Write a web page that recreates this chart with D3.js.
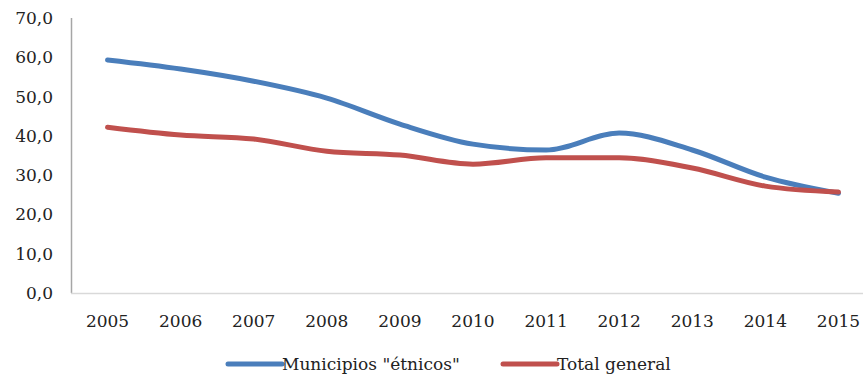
<!DOCTYPE html>
<html>
<head>
<meta charset="utf-8">
<script src="https://d3js.org/d3.v7.min.js"></script>
<style>
body { margin: 0; background: #fff; }
text { font-family: "DejaVu Serif", serif; fill: #222; }
</style>
</head>
<body>
<script>
// data
var years = ["2005", "2006", "2007", "2008", "2009", "2010", "2011", "2012", "2013", "2014", "2015"];
var etnicos = [59.3, 57.0, 53.9, 49.6, 43.0, 37.9, 36.4, 40.7, 36.4, 29.5, 25.4];
var totalGeneral = [42.2, 40.2, 39.2, 36.1, 35.1, 32.8, 34.4, 34.4, 31.8, 27.2, 25.7];
var yTicks = [0, 10, 20, 30, 40, 50, 60, 70];

var seriesNames = ['Municipios "étnicos"', "Total general"];
var seriesColours = ["#4a7ebb", "#c0504d"];

var svgDims = { width: 863, height: 374 };

var svg = d3.select("body").append("svg")
	.attr("width", svgDims.width)
	.attr("height", svgDims.height);

// plot area runs past the right edge, as in the original
var x = d3.scaleBand().domain(years).range([71, 875]);
var y = d3.scaleLinear().domain([0, 70]).range([293, 18]);

// y axis labels
svg.append("g")
	.selectAll("text")
	.data(yTicks)
	.enter().append("text")
	.attr("x", 53)
	.attr("y", function(d) { return y(d); })
	.attr("dy", "0.35em")
	.attr("text-anchor", "end")
	.style("font-size", "17px")
	.text(function(d) { return d3.format(".1f")(d).replace(".", ","); });

// x axis labels
svg.append("g")
	.selectAll("text")
	.data(years)
	.enter().append("text")
	.attr("x", function(d) { return x(d) + x.bandwidth() / 2; })
	.attr("y", 327)
	.attr("text-anchor", "middle")
	.style("font-size", "17px")
	.text(function(d) { return d; });

// axis lines
svg.append("line")
	.attr("x1", 71.5).attr("x2", 71.5)
	.attr("y1", y(70)).attr("y2", y(0))
	.attr("stroke", "#a6a6a6").attr("stroke-width", 1.5);
svg.append("line")
	.attr("x1", 71).attr("x2", 875)
	.attr("y1", y(0) + 0.5).attr("y2", y(0) + 0.5)
	.attr("stroke", "#d9d9d9").attr("stroke-width", 1.5);

var line = d3.line()
	.x(function(d, i) { return x(years[i]) + x.bandwidth() / 2; })
	.y(function(d) { return y(d); })
	.curve(d3.curveMonotoneX);

[etnicos, totalGeneral].forEach(function(vals, i) {
	svg.append("path")
		.datum(vals)
		.attr("d", line)
		.attr("fill", "none")
		.attr("stroke", seriesColours[i])
		.attr("stroke-width", 5)
		.attr("stroke-linecap", "round")
		.attr("stroke-linejoin", "round");
});

// legend
var legendX = [228, 503];
seriesNames.forEach(function(name, i) {
	var g = svg.append("g").attr("transform", "translate(" + legendX[i] + ",364)");
	g.append("line")
		.attr("x1", 0).attr("x2", 54)
		.attr("stroke", seriesColours[i])
		.attr("stroke-width", 5)
		.attr("stroke-linecap", "round");
	g.append("text")
		.attr("x", 54)
		.attr("dy", "0.35em")
		.style("font-size", "17px")
		.text(name);
});
</script>
</body>
</html>
